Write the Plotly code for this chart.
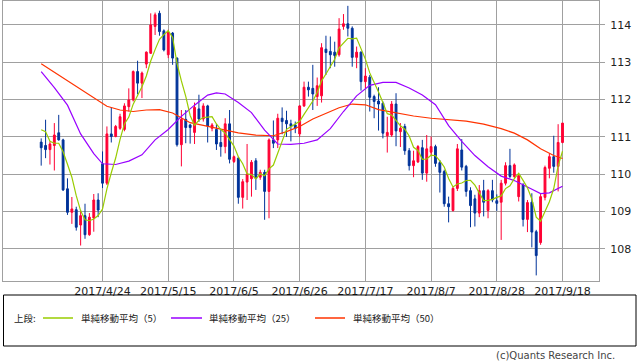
import plotly.graph_objects as go
import pandas as pd

# ---------------- data (USD/JPY daily) ----------------
dates = [d.strftime("%Y-%m-%d") for d in pd.bdate_range("2017-04-04", "2017-09-18")]

opens = [110.86, 110.77, 110.66, 110.77, 111.11, 110.92, 109.61, 108.98, 109.05, 108.64,
         108.89, 108.38, 108.83, 109.31, 110.28, 109.76, 111.08, 111.01, 111.23, 111.20,
         111.81, 111.99, 112.75, 112.44, 112.95, 113.24, 113.96, 114.31, 113.84, 113.20,
         113.78, 113.11, 110.79, 111.47, 111.32, 111.12, 111.75, 111.48, 111.83, 111.23,
         111.20, 110.85, 110.74, 111.35, 110.34, 110.43, 109.38, 109.79, 109.88, 110.36,
         109.92, 110.05, 109.54, 110.92, 110.92, 111.50, 111.44, 111.35, 111.32, 111.08,
         111.83, 112.33, 112.30, 112.08, 112.10, 113.35, 113.29, 113.27, 113.20, 113.96,
         114.03, 113.91, 113.13, 113.27, 112.48, 112.60, 112.08, 111.96, 111.90, 111.03,
         111.05, 111.88, 111.14, 111.28, 110.63, 110.23, 110.33, 110.71, 110.03, 110.59,
         110.74, 110.31, 110.07, 109.21, 109.03, 109.62, 110.65, 110.21, 109.56, 109.34,
         108.96, 109.56, 109.03, 109.56, 109.29, 109.25, 109.76, 110.23, 109.94, 109.40,
         109.71, 108.79, 109.25, 108.46, 108.17, 109.38, 110.16, 110.47, 110.21, 110.85]
highs = [110.96, 111.46, 110.88, 111.37, 111.59, 110.95, 109.89, 109.39, 109.13, 109.04,
         109.21, 108.96, 109.47, 109.49, 110.61, 111.28, 111.80, 111.32, 111.62, 111.90,
         112.30, 112.78, 113.04, 112.75, 113.29, 114.31, 114.33, 114.38, 113.88, 113.87,
         113.81, 113.13, 111.72, 111.72, 111.35, 111.92, 112.13, 111.90, 111.86, 111.37,
         111.34, 111.19, 111.50, 111.72, 110.50, 110.47, 109.87, 110.81, 110.38, 110.43,
         110.12, 110.12, 110.96, 111.44, 111.62, 111.79, 111.70, 111.46, 111.41, 111.85,
         112.48, 112.48, 112.93, 112.59, 113.51, 113.71, 113.69, 113.55, 114.18, 114.29,
         114.51, 113.96, 113.42, 113.29, 112.84, 112.66, 112.13, 112.33, 111.95, 111.54,
         111.96, 112.17, 111.37, 111.35, 110.70, 110.63, 110.78, 110.92, 111.05, 111.01,
         110.79, 110.38, 110.12, 109.40, 109.67, 110.81, 110.94, 110.25, 109.65, 109.45,
         109.71, 109.85, 109.60, 109.85, 109.46, 109.85, 110.32, 110.68, 110.29, 110.01,
         109.76, 109.31, 109.49, 108.51, 109.49, 110.23, 110.56, 111.03, 111.34, 111.37]
lows = [110.23, 110.43, 110.26, 110.10, 110.90, 109.55, 108.91, 108.67, 108.49, 108.09,
        108.27, 108.35, 108.46, 108.85, 109.63, 109.71, 110.85, 110.99, 111.19, 111.15,
        111.68, 111.95, 112.14, 112.04, 112.84, 113.22, 113.73, 113.71, 113.29, 113.11,
        112.93, 110.74, 110.21, 110.83, 110.82, 110.81, 111.40, 111.41, 110.85, 111.15,
        110.65, 110.47, 110.56, 110.29, 110.30, 109.21, 109.08, 109.31, 109.40, 109.58,
        109.85, 108.78, 108.82, 110.70, 110.70, 111.07, 111.00, 110.88, 111.10, 111.00,
        111.80, 112.08, 111.72, 111.83, 111.92, 112.66, 112.84, 112.88, 113.15, 113.87,
        113.69, 112.88, 112.84, 112.24, 112.30, 111.68, 111.50, 111.17, 110.96, 110.58,
        111.00, 110.75, 110.73, 110.52, 110.10, 109.92, 110.30, 109.85, 109.80, 110.50,
        110.20, 109.51, 109.13, 108.71, 109.00, 109.55, 110.10, 109.40, 108.58, 108.60,
        108.85, 108.87, 108.82, 109.25, 109.02, 108.24, 109.70, 109.89, 109.90, 109.27,
        108.60, 108.45, 108.04, 107.29, 108.11, 109.30, 109.89, 110.04, 109.54, 110.83]
closes = [110.71, 110.66, 110.81, 111.05, 110.92, 109.58, 108.98, 109.07, 108.58, 108.89,
          108.38, 108.85, 109.31, 109.04, 109.76, 111.08, 111.01, 111.28, 111.54, 111.83,
          111.99, 112.75, 112.44, 112.71, 113.27, 114.00, 114.27, 113.82, 113.33, 113.80,
          113.11, 110.79, 111.47, 111.25, 111.25, 111.79, 111.48, 111.83, 111.29, 111.32,
          110.81, 110.74, 111.35, 110.40, 110.47, 109.38, 109.80, 110.00, 110.32, 109.89,
          110.05, 109.54, 110.92, 110.83, 111.50, 111.41, 111.35, 111.28, 111.23, 111.83,
          112.33, 112.26, 112.15, 112.37, 113.39, 113.26, 113.20, 113.18, 113.89, 114.03,
          113.91, 113.13, 113.27, 112.48, 112.63, 112.06, 111.95, 111.88, 111.10, 111.12,
          111.88, 111.16, 111.23, 110.63, 110.23, 110.36, 110.74, 110.03, 110.68, 110.74,
          110.29, 110.05, 109.21, 109.13, 109.62, 110.68, 110.19, 109.54, 109.16, 108.96,
          109.56, 109.25, 109.56, 109.31, 109.22, 109.76, 110.23, 109.94, 110.25, 109.96,
          108.79, 109.24, 108.45, 107.82, 109.40, 110.18, 110.47, 110.21, 110.85, 111.37]
# closes of the four sessions before the first candle (needed by the 5-day average)
pre_closes = [110.91, 112.11, 111.30, 110.92]

# 25- and 50-day averages (candle number -> value)
ma25_idx = [1, 4, 7, 10, 13, 15, 18, 21, 24, 27, 30, 33, 36, 39, 41, 43, 46, 49, 52, 55,
            58, 61, 64, 67, 70, 73, 76, 79, 82, 85, 88, 91, 94, 97, 100, 103, 106, 109,
            112, 115, 117, 120]
ma25_val = [112.75, 112.32, 111.85, 111.08, 110.55, 110.28, 110.26, 110.35, 110.52, 110.92,
            111.20, 111.55, 111.85, 112.12, 112.18, 112.15, 111.92, 111.65, 111.18, 110.81,
            110.80, 110.83, 110.92, 111.22, 111.68, 112.10, 112.38, 112.46, 112.46, 112.31,
            112.12, 111.86, 111.30, 110.88, 110.50, 110.20, 109.95, 109.83, 109.66, 109.48,
            109.50, 109.68]
ma50_idx = [1, 4, 7, 10, 13, 16, 19, 22, 25, 28, 31, 33, 35, 38, 42, 46, 50, 54, 57, 60,
            63, 66, 69, 72, 75, 78, 82, 86, 90, 94, 98, 102, 106, 109, 112, 115, 118, 120]
ma50_val = [112.96, 112.73, 112.52, 112.27, 112.05, 111.82, 111.72, 111.68, 111.72, 111.73,
            111.64, 111.50, 111.38, 111.31, 111.22, 111.11, 111.05, 111.03, 111.14, 111.28,
            111.48, 111.62, 111.78, 111.88, 111.86, 111.73, 111.64, 111.56, 111.50, 111.46,
            111.42, 111.34, 111.22, 111.10, 110.92, 110.68, 110.50, 110.42]

tick_dates = ["2017-04-24", "2017-05-15", "2017-06-05", "2017-06-26",
              "2017-07-17", "2017-08-07", "2017-08-28", "2017-09-18"]
tick_labels = ["2017/4/24", "2017/5/15", "2017/6/5", "2017/6/26",
               "2017/7/17", "2017/8/7", "2017/8/28", "2017/9/18"]
y_ticks = [108, 109, 110, 111, 112, 113, 114]

legend_names = ["単純移動平均（5）", "単純移動平均（25）", "単純移動平均（50）"]

# ---------------- styles ----------------
RED = "#ff0033"
BLUE = "#003399"
C_MA5 = "#99cc00"
C_MA25 = "#9900ff"
C_MA50 = "#ff3300"
GRID = "#a0a0a0"

all_closes = pre_closes + closes
ma5 = [sum(all_closes[i:i + 5]) / 5 for i in range(len(closes))]

fig = go.Figure()
fig.add_trace(go.Candlestick(
    x=dates, open=opens, high=highs, low=lows, close=closes,
    increasing=dict(line=dict(color=RED, width=1), fillcolor=RED),
    decreasing=dict(line=dict(color=BLUE, width=1), fillcolor=BLUE),
    whiskerwidth=0, hoverinfo="skip", showlegend=False))
fig.add_trace(go.Scatter(x=[dates[i - 1] for i in ma50_idx], y=ma50_val, mode="lines",
                         line=dict(color=C_MA50, width=1.2), hoverinfo="skip", showlegend=False))
fig.add_trace(go.Scatter(x=[dates[i - 1] for i in ma25_idx], y=ma25_val, mode="lines",
                         line=dict(color=C_MA25, width=1.2), hoverinfo="skip", showlegend=False))
fig.add_trace(go.Scatter(x=dates, y=ma5, mode="lines",
                         line=dict(color=C_MA5, width=1.2), hoverinfo="skip", showlegend=False))

# plot area: x 3..599, y 0..281 px
PL, PR, PT, PB = 3, 599, 1, 281
W, H = 638, 362


def px(x):
    return (x - PL) / (PR - PL)


def py(y):
    return (PB - y) / (PB - PT)


fig.update_layout(
    width=W, height=H,
    margin=dict(l=PL, r=W - PR, t=PT, b=H - PB, pad=0),
    paper_bgcolor="white", plot_bgcolor="white",
    showlegend=False, boxgap=0.4,
    font=dict(family="DejaVu Sans", size=11, color="#222222"),
)
fig.update_xaxes(
    type="category", range=[-8.72, 127.33],
    tickvals=tick_dates, ticktext=tick_labels, ticks="",
    showgrid=True, gridcolor=GRID, gridwidth=1,
    showline=True, linecolor=GRID, linewidth=1, mirror=True,
    rangeslider=dict(visible=False), fixedrange=True,
    tickfont=dict(family="DejaVu Sans", size=11, color="#222222"),
)
fig.update_yaxes(
    side="right", range=[107.14, 114.64], tickvals=y_ticks,
    showgrid=True, gridcolor=GRID, gridwidth=1, zeroline=False,
    showline=True, linecolor=GRID, linewidth=1, mirror=True,
    ticks="outside", ticklen=5, tickcolor=GRID, ticklabelstandoff=3,
    fixedrange=True,
    tickfont=dict(family="DejaVu Sans", size=11, color="#222222"),
)

# legend box (drawn below the plot)
shapes = [dict(type="rect", xref="paper", yref="paper",
               x0=px(3.5), x1=px(636), y0=py(346), y1=py(295),
               line=dict(color="black", width=1), fillcolor="rgba(0,0,0,0)")]
ly = py(318)
for (x0, x1), col in zip([(43, 73), (171, 202), (315, 345)], [C_MA5, C_MA25, C_MA50]):
    shapes.append(dict(type="line", xref="paper", yref="paper",
                       x0=px(x0), x1=px(x1), y0=ly, y1=ly,
                       line=dict(color=col, width=1.5)))
fig.update_layout(shapes=shapes)

JP = "Noto Sans CJK JP"
annos = [dict(text="上段:", x=px(12), y=ly, xref="paper", yref="paper",
              xanchor="left", yanchor="middle", showarrow=False,
              font=dict(family=JP, size=9.5, color="#222222"))]
for name, xs in zip(legend_names, [79, 207, 351]):
    annos.append(dict(text=name, x=px(xs), y=ly, xref="paper", yref="paper",
                      xanchor="left", yanchor="middle", showarrow=False,
                      font=dict(family=JP, size=9.5, color="#222222")))
annos.append(dict(text="(c)Quants Research Inc.", x=px(617), y=py(355),
                  xref="paper", yref="paper", xanchor="right", yanchor="middle",
                  showarrow=False, font=dict(family="DejaVu Sans", size=10, color="#444444")))
fig.update_layout(annotations=annos)

fig.write_html("out.html", config={"displayModeBar": False},
               post_script="document.body.style.margin='0';document.body.style.overflow='hidden';")
